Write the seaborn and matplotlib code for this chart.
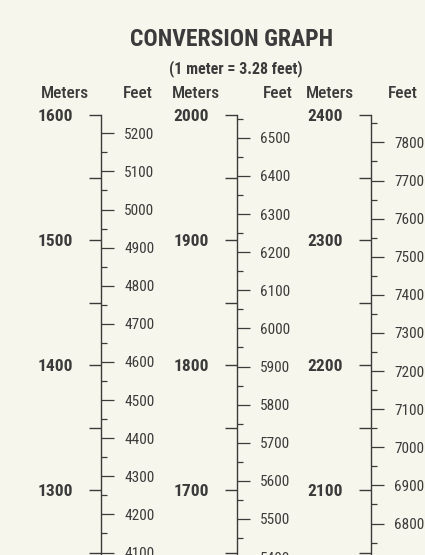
import matplotlib
matplotlib.use("Agg")
import matplotlib.pyplot as plt
from matplotlib.ticker import MultipleLocator, FixedLocator, NullFormatter
import seaborn as sns

# data
ft_per_m = 3.28
col_tops = [1600, 2000, 2400]          # meters at the top of each scale
feet_labels = [
    [4100, 4200, 4300, 4400, 4500, 4600, 4700, 4800, 4900, 5000, 5100, 5200],
    [5400, 5500, 5600, 5700, 5800, 5900, 6000, 6100, 6200, 6300, 6400, 6500],
    [6800, 6900, 7000, 7100, 7200, 7300, 7400, 7500, 7600, 7700, 7800],
]
col_x = [101, 237, 371]                # x of each scale line (px)
meter_hdr_x = [41, 172, 306]
feet_hdr_x = [153, 293, 418]
title = "CONVERSION GRAPH"
subtitle = "(1 meter = 3.28 feet)"

W, H = 425, 555
top_px = 115
below_px = 20                          # scale runs on past the bottom edge
px_per_100m = 125
ink = "#3b3b3b"
bg = "#f6f6ec"

sns.set_style("white", rc={"axes.facecolor": "none", "figure.facecolor": bg})
plt.rcParams["font.family"] = ["Roboto Condensed", "DejaVu Sans"]
plt.rcParams["text.color"] = ink

fig = plt.figure(figsize=(W / 100, H / 100), dpi=100)

def m2ft(m):
    return m * ft_per_m

def ft2m(f):
    return f / ft_per_m

span_px = H - top_px + below_px
span_m = span_px / px_per_100m * 100
for top, x, fticks in zip(col_tops, col_x, feet_labels):
    ax = fig.add_axes([x / W, -below_px / H, 0.0004, span_px / H])
    ax.set_ylim(top - span_m, top)
    ax.set_xticks([])
    sns.despine(ax=ax, top=True, right=True, bottom=True, left=False)
    ax.spines["left"].set_color(ink)
    ax.spines["left"].set_linewidth(1.0)

    # meters (left side)
    ax.yaxis.set_major_locator(MultipleLocator(100))
    ax.yaxis.set_minor_locator(MultipleLocator(10))
    ax.tick_params(axis="y", which="major", length=11, width=1.0, color=ink,
                   pad=9, labelsize=12.5, labelcolor=ink)
    ax.tick_params(axis="y", which="minor", length=5, width=1.0, color=ink)
    for lab in ax.get_yticklabels():
        lab.set_fontweight("bold")

    mid = ax.secondary_yaxis("left", functions=(lambda v: v, lambda v: v))
    mid.spines["left"].set_visible(False)
    mid.yaxis.set_major_locator(MultipleLocator(50))
    mid.yaxis.set_major_formatter(NullFormatter())
    mid.tick_params(axis="y", which="major", length=8.5, width=1.0, color=ink)

    # feet (right side)
    sec = ax.secondary_yaxis("right", functions=(m2ft, ft2m))
    sec.spines["right"].set_visible(False)
    sec.yaxis.set_major_locator(FixedLocator(fticks))
    sec.yaxis.set_minor_locator(MultipleLocator(50))
    sec.tick_params(axis="y", which="major", length=9, width=0.9, color=ink,
                    pad=7.5, labelsize=11, labelcolor=ink)
    sec.tick_params(axis="y", which="minor", length=4.5, width=0.9, color=ink)

# titles and column headers
fig.text(232 / W, 1 - 39 / H, title, ha="center", va="center",
         fontsize=17, fontweight="bold", color=ink)
fig.text(236 / W, 1 - 69 / H, subtitle, ha="center", va="center",
         fontsize=11.5, fontweight="semibold", color=ink)
for mx, fx in zip(meter_hdr_x, feet_hdr_x):
    fig.text(mx / W, 1 - 93 / H, "Meters", ha="left", va="center",
             fontsize=12.5, fontweight="medium", color=ink)
    fig.text(fx / W, 1 - 93 / H, "Feet", ha="right", va="center",
             fontsize=12.5, fontweight="medium", color=ink)

fig.savefig("out.png", dpi=100, facecolor=bg)
